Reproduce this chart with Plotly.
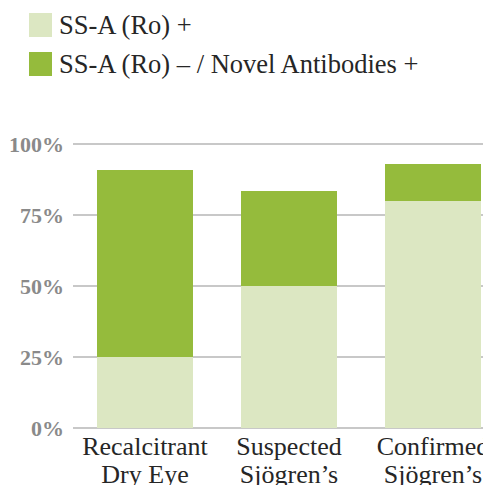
import plotly.graph_objects as go

cat_line1 = ["Recalcitrant", "Suspected", "Confirmed"]
cat_line2 = ["Dry Eye", "Sjögren’s", "Sjögren’s"]
series_names = ["SS-A (Ro) +", "SS-A (Ro) – / Novel Antibodies +"]
ssa_pos = [25, 50, 80]
novel_pos = [66, 33.5, 13]
colors = ["#dce7c2", "#95bb3c"]
y_ticks = [0, 25, 50, 75, 100]
y_ticktext = ["0%", "25%", "50%", "75%", "100%"]

xpos = list(range(len(cat_line1)))

fig = go.Figure()
for name, vals, col in zip(series_names, [ssa_pos, novel_pos], colors):
    fig.add_trace(go.Bar(x=xpos, y=vals, name=name, marker=dict(color=col, line=dict(width=0)),
                         showlegend=False))
# carrier trace for the second line of category labels
fig.add_trace(go.Scatter(x=xpos, y=[0] * len(xpos), xaxis="x2", mode="markers",
                         marker=dict(opacity=0), showlegend=False, hoverinfo="skip"))

PL, PT = 65, 135
shapes = []
annotations = []
rows = [17, 56]
for name, col, yc in zip(series_names, colors, rows):
    shapes.append(dict(type="rect", xref="paper", yref="paper", xsizemode="pixel", ysizemode="pixel",
                       xanchor=0, yanchor=1, x0=21 - PL, x1=44 - PL, y0=PT - (yc - 12), y1=PT - (yc + 12),
                       fillcolor=col, line=dict(width=0)))
    annotations.append(dict(xref="paper", yref="paper", x=0, y=1, xshift=49 - PL, yshift=PT - yc,
                            xanchor="left", yanchor="middle", text=name, showarrow=False,
                            font=dict(family="Liberation Serif", size=26.5, color="#262626")))

xr = [-0.5, 2.403]
fig.update_layout(
    width=483, height=477,
    margin=dict(l=PL, r=0, t=PT, b=56.5),
    paper_bgcolor="white", plot_bgcolor="white",
    barmode="stack", bargap=0.333,
    shapes=shapes, annotations=annotations,
    xaxis=dict(range=xr, tickvals=xpos, ticktext=cat_line1, showgrid=False, showline=False,
               zeroline=False, ticks="",
               tickfont=dict(family="Liberation Serif", size=26, color="#262626"), automargin=False),
    xaxis2=dict(range=xr, overlaying="x", side="bottom", anchor="y", tickvals=xpos, ticktext=cat_line2,
                showgrid=False, showline=False, zeroline=False, ticks="", ticklabelstandoff=28,
                tickfont=dict(family="Liberation Serif", size=26, color="#262626"), automargin=False),
    yaxis=dict(range=[0, 100.5], tickvals=y_ticks, ticktext=y_ticktext, showgrid=True, gridcolor="#c8c8c8",
               gridwidth=1.7, zeroline=True, zerolinecolor="#c8c8c8", zerolinewidth=1.7, showline=False,
               ticks="", ticklabelstandoff=8,
               tickfont=dict(family="Liberation Serif", size=22, color="#8a8a8a", weight="bold"),
               automargin=False),
)
fig.write_html("out.html")
